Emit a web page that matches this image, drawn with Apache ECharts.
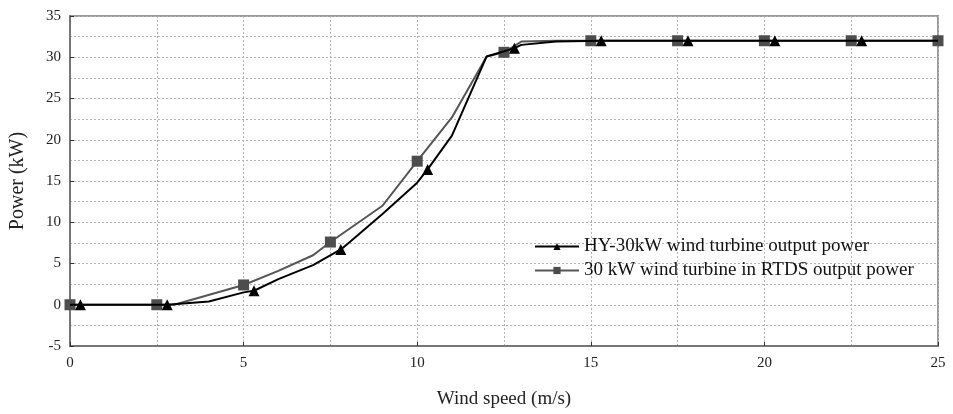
<!DOCTYPE html>
<html lang="en">
  <head>
    <meta charset="UTF-8" />
    <title>wind turbine power curve</title>
    <script src="https://cdn.jsdelivr.net/npm/echarts@6/dist/echarts.min.js"></script>
    <style>
      * {
        margin: 0;
        padding: 0;
      }
      html, body {
        background: #fff;
      }
    </style>
  </head>
  <body>
    <div id="charts" style="width: 953px; height: 414px"></div>
    <script>
      var hySpeed = [0, 0.3, 2.8, 4, 5, 5.3, 6, 7, 7.8, 8, 9, 10, 10.3, 11, 12, 12.8, 13, 14, 15.3, 17.8, 20.3, 22.8, 25];
      var hyPower = [0, 0, 0, 0.4, 1.5, 1.7, 3.1, 4.8, 6.7, 7.4, 11, 14.8, 16.4, 20.5, 30.1, 31.1, 31.5, 31.9, 32, 32, 32, 32, 32];
      var hyMarks = [0.3, 2.8, 5.3, 7.8, 10.3, 12.8, 15.3, 17.8, 20.3, 22.8];

      // RTDS model curve
      var rtdsSpeed = [0, 2.5, 3, 5, 6, 7, 7.5, 9, 10, 11, 12, 12.5, 13, 14, 15, 17.5, 20, 22.5, 25];
      var rtdsPower = [0, 0, 0, 2.4, 4.1, 6.0, 7.6, 12, 17.4, 22.7, 30.1, 30.6, 31.9, 32, 32, 32, 32, 32, 32];
      var rtdsMarks = [0, 2.5, 5, 7.5, 10, 12.5, 15, 17.5, 20, 22.5, 25];

      var seriesNames = ["HY-30kW wind turbine output power", "30 kW wind turbine in RTDS output power"];

      function buildData(xs, ys, marks) {
        return xs.map(function (x, i) {
          var item = { value: [x, ys[i]] };
          if (marks.indexOf(x) < 0) item.symbol = "none";
          return item;
        });
      }

      var font = "'Liberation Serif', 'DejaVu Serif', serif";
      var gridLine = { show: true, lineStyle: { color: "#b4b4b4", type: [2, 2], width: 1 } };

      var myEcharts = echarts.init(document.getElementById("charts"));
      var options = {
        animation: false,
        backgroundColor: "#fff",
        grid: {
          left: 69,
          right: 15,
          top: 16,
          bottom: 66,
          show: true,
          borderColor: "#999",
          borderWidth: 2,
        },
        legend: {
          orient: "vertical",
          left: 529,
          top: 232,
          itemWidth: 44,
          itemHeight: 9,
          itemGap: 5,
          textStyle: { fontFamily: font, fontSize: 19, color: "#111" },
          data: seriesNames,
        },
        xAxis: {
          type: "value",
          min: 0,
          max: 25,
          interval: 5,
          name: "Wind speed (m/s)",
          nameLocation: "middle",
          nameGap: 44,
          nameTextStyle: { fontFamily: font, fontSize: 19, color: "#222" },
          axisLine: { onZero: false, lineStyle: { color: "#777", width: 2 } },
          axisTick: { show: true, inside: true, length: 4, lineStyle: { color: "#333" } },
          axisLabel: { fontFamily: font, fontSize: 15, color: "#222", margin: 10 },
          splitLine: gridLine,
          minorTick: { show: false, splitNumber: 2 },
          minorSplitLine: gridLine,
        },
        yAxis: {
          type: "value",
          min: -5,
          max: 35,
          interval: 5,
          name: "Power (kW)",
          nameLocation: "middle",
          nameGap: 42,
          nameRotate: 90,
          nameTextStyle: { fontFamily: font, fontSize: 20, color: "#222" },
          axisLine: { show: true, onZero: false, lineStyle: { color: "#777", width: 2 } },
          axisTick: { show: true, inside: true, length: 4, lineStyle: { color: "#333" } },
          axisLabel: { fontFamily: font, fontSize: 15, color: "#222", margin: 9 },
          splitLine: gridLine,
          minorTick: { show: false, splitNumber: 2 },
          minorSplitLine: gridLine,
        },
        series: [
          {
            name: seriesNames[1],
            type: "line",
            symbol: "rect",
            symbolSize: 11,
            showAllSymbol: true,
            color: "#4d4d4d",
            lineStyle: { color: "#555", width: 2 },
            itemStyle: { color: "#4d4d4d" },
            data: buildData(rtdsSpeed, rtdsPower, rtdsMarks),
            z: 2,
          },
          {
            name: seriesNames[0],
            type: "line",
            symbol: "triangle",
            symbolSize: 11,
            showAllSymbol: true,
            color: "#000",
            lineStyle: { color: "#000", width: 2 },
            itemStyle: { color: "#000" },
            data: buildData(hySpeed, hyPower, hyMarks),
            z: 3,
          },
        ],
      };
      myEcharts.setOption(options);
    </script>
  </body>
</html>
